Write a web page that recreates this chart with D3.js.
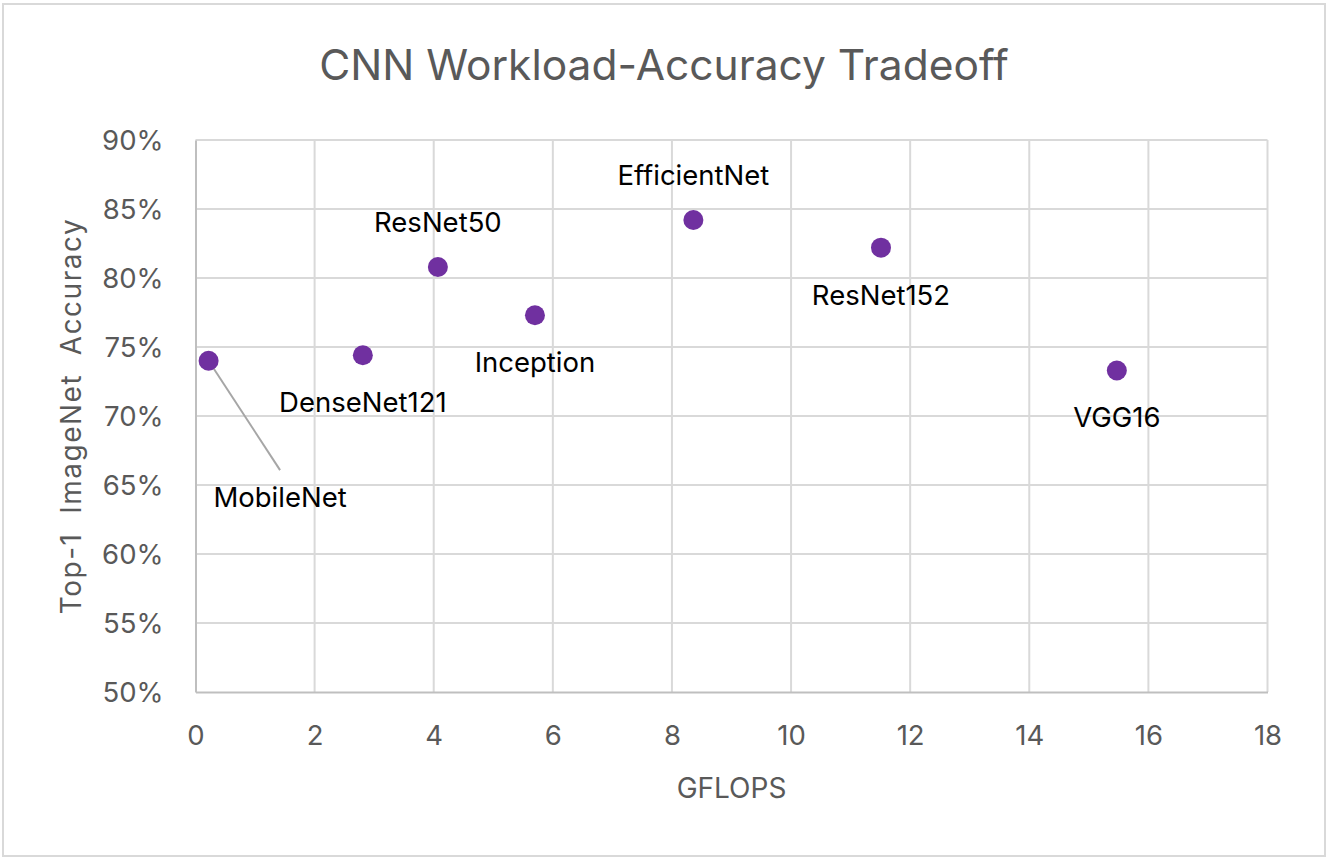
<!DOCTYPE html>
<html>
<head>
<meta charset="utf-8">
<script src="https://cdn.jsdelivr.net/npm/d3@7"></script>
<style>
  body { margin: 0; background: #fff; }
  svg { display: block; }
  text { font-family: Inter, "Liberation Sans", Arial, sans-serif; }
</style>
</head>
<body>
<svg id="chart"></svg>
<script>
// values
const models = ["MobileNet", "DenseNet121", "ResNet50", "Inception", "EfficientNet", "ResNet152", "VGG16"];
const gflops = [0.22, 2.81, 4.07, 5.70, 8.36, 11.51, 15.47];
const accuracy = [0.740, 0.744, 0.808, 0.773, 0.842, 0.822, 0.733];
const labelSide = ["callout", "below", "above", "below", "above", "below", "below"];
const xTicks = [0, 2, 4, 6, 8, 10, 12, 14, 16, 18];
const yTicks = [0.5, 0.55, 0.6, 0.65, 0.7, 0.75, 0.8, 0.85, 0.9];
// where the MobileNet label sits (data units)
const calloutAt = [1.42, 0.634];

const W = 1329, H = 860;
const margin = {top: 140, right: 61.5, bottom: 168, left: 195.5};
const width = W - margin.left - margin.right;
const height = H - margin.top - margin.bottom;

const svg = d3.select("#chart").attr("width", W).attr("height", H);

// outer chart border
svg.append("rect")
    .attr("x", 3).attr("y", 4).attr("width", W - 7).attr("height", H - 8)
    .attr("fill", "#fff").attr("stroke", "#d9d9d9").attr("stroke-width", 2);

svg.append("text")
    .attr("x", 664).attr("y", 80)
    .attr("text-anchor", "middle")
    .attr("font-size", 42.5)
    .attr("fill", "#595959")
    .text("CNN Workload-Accuracy Tradeoff");

const g = svg.append("g").attr("transform", "translate(" + margin.left + "," + margin.top + ")");

const x = d3.scaleLinear().domain([0, 18]).range([0, width]);
const y = d3.scaleLinear().domain([0.5, 0.9]).range([height, 0]);

// grid
g.append("g").selectAll("line").data(xTicks.slice(1))
    .enter().append("line")
    .attr("x1", d => x(d)).attr("x2", d => x(d))
    .attr("y1", 0).attr("y2", height)
    .attr("stroke", "#d9d9d9").attr("stroke-width", 2);
g.append("g").selectAll("line").data(yTicks.slice(1))
    .enter().append("line")
    .attr("x1", 0).attr("x2", width)
    .attr("y1", d => y(d)).attr("y2", d => y(d))
    .attr("stroke", "#d9d9d9").attr("stroke-width", 2);

// axes
const xAxis = d3.axisBottom(x).tickValues(xTicks).tickSize(0).tickPadding(33);
const yAxis = d3.axisLeft(y).tickValues(yTicks).tickSize(0).tickPadding(32).tickFormat(d3.format(".0%"));

const gx = g.append("g").attr("transform", "translate(0," + height + ")").call(xAxis);
const gy = g.append("g").call(yAxis);
[gx, gy].forEach(a => {
    a.select(".domain").attr("stroke", "#bfbfbf").attr("stroke-width", 2);
    a.selectAll("text").attr("font-size", 27.5).attr("fill", "#595959")
        .style("font-family", "Inter, 'Liberation Sans', Arial, sans-serif");
});
gx.selectAll("text").attr("dy", "0.71em");
gy.selectAll("text").attr("dy", "0.35em");

// axis titles
g.append("text")
    .attr("x", width / 2).attr("y", height + 106)
    .attr("text-anchor", "middle")
    .attr("font-size", 28).attr("fill", "#595959")
    .text("GFLOPS");
g.append("text")
    .attr("transform", "translate(" + (81 - margin.left) + "," + (height / 2) + ") rotate(-90)")
    .attr("text-anchor", "middle")
    .attr("font-size", 28).attr("fill", "#595959")
    .attr("letter-spacing", 1.5)
    .style("white-space", "pre")
    .text("Top-1  ImageNet  Accuracy");

const data = models.map((m, i) => ({name: m, gf: gflops[i], acc: accuracy[i], side: labelSide[i]}));

// leader line for the callout label
data.filter(d => d.side === "callout").forEach(d => {
    g.append("line")
        .attr("x1", x(d.gf)).attr("y1", y(d.acc))
        .attr("x2", x(calloutAt[0])).attr("y2", y(calloutAt[1]) - 37)
        .attr("stroke", "#a6a6a6").attr("stroke-width", 2);
});

g.append("g").selectAll("circle").data(data)
    .enter().append("circle")
    .attr("cx", d => x(d.gf)).attr("cy", d => y(d.acc))
    .attr("r", 10)
    .attr("fill", "#7030a0");

g.append("g").selectAll("text").data(data)
    .enter().append("text")
    .attr("x", d => d.side === "callout" ? x(calloutAt[0]) : x(d.gf))
    .attr("y", d => {
        if (d.side === "callout") return y(calloutAt[1]);
        return d.side === "above" ? y(d.acc) - 35 : y(d.acc) + 57;
    })
    .attr("text-anchor", "middle")
    .attr("font-size", 27.5)
    .attr("fill", "#000")
    .text(d => d.name);
</script>
</body>
</html>
